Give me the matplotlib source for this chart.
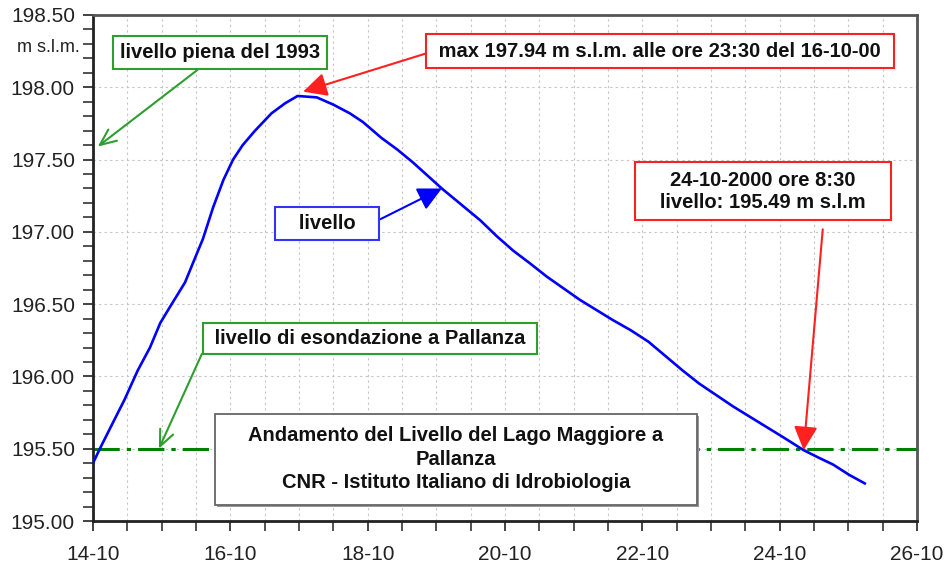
import numpy as np
import matplotlib
matplotlib.use('Agg')
import matplotlib.pyplot as plt
from matplotlib.patches import Rectangle
from matplotlib.ticker import MultipleLocator, FormatStrFormatter

plt.rcParams['font.family'] = ['Liberation Sans', 'DejaVu Sans']

# giorni trascorsi dalle 00:00 del 14-10-2000
giorni = [0.00, 0.10, 0.29, 0.46, 0.65, 0.83, 0.98, 1.12, 1.34, 1.53, 1.60,
          1.75, 1.90, 2.04, 2.18, 2.36, 2.60, 2.80, 2.98, 3.26, 3.50, 3.74,
          3.93, 4.20, 4.43, 4.66, 4.87, 5.08, 5.36, 5.64, 5.88, 6.12, 6.37,
          6.61, 6.85, 7.09, 7.33, 7.57, 7.83, 8.09, 8.34, 8.59, 8.83, 9.08,
          9.33, 9.57, 9.81, 10.05, 10.35, 10.56, 10.78, 11.01, 11.24]
livello = [195.40, 195.50, 195.68, 195.84, 196.04, 196.20, 196.37, 196.48,
           196.65, 196.87, 196.95, 197.17, 197.36, 197.50, 197.60, 197.70,
           197.82, 197.89, 197.94, 197.93, 197.88, 197.82, 197.76, 197.65,
           197.57, 197.48, 197.39, 197.30, 197.19, 197.08, 196.97, 196.87,
           196.78, 196.69, 196.61, 196.53, 196.46, 196.39, 196.32, 196.24,
           196.14, 196.04, 195.95, 195.87, 195.79, 195.72, 195.65, 195.58,
           195.49, 195.44, 195.39, 195.32, 195.26]

xtick_pos = [0, 2, 4, 6, 8, 10, 12]
xtick_lab = ['14-10', '16-10', '18-10', '20-10', '22-10', '24-10', '26-10']

esondazione = 195.50
piena_1993 = 197.59
t_max, v_max = 2.98, 197.94
t_fine, v_fine = 10.35, 195.49
t_liv, v_liv = 5.08, 197.30

fig = plt.figure(figsize=(9.46, 5.66), dpi=100)
ax = fig.add_axes([0.0983, 0.0795, 0.871, 0.894])

ax.plot(giorni, livello, color='#0000ff', lw=1.9, zorder=3)
ax.axhline(esondazione, color='#008000', lw=2.2, dashes=(8.6, 2.3, 1.4, 2.3), zorder=2)

ax.set_xlim(0, 12)
ax.set_ylim(195.0, 198.5)
ax.set_xticks(xtick_pos, xtick_lab)
ax.xaxis.set_minor_locator(MultipleLocator(0.5))
ax.yaxis.set_major_locator(MultipleLocator(0.5))
ax.yaxis.set_minor_locator(MultipleLocator(0.1))
ax.yaxis.set_major_formatter(FormatStrFormatter('%.2f'))
ax.tick_params(which='both', direction='out', length=7, width=1.2, color='#333333')
ax.tick_params(which='major', labelsize=15, colors='#222222')
ax.tick_params(axis='x', which='major', pad=10)
ax.tick_params(axis='y', which='major', pad=6)
ax.grid(which='both', axis='x', color='#c4c4c4', ls=(0, (2, 3)), lw=0.8)
ax.grid(which='major', axis='y', color='#c4c4c4', ls=(0, (2, 3)), lw=0.8)
for s in ['left', 'bottom']:
    ax.spines[s].set_linewidth(2)
    ax.spines[s].set_color('#222222')
for s in ['top', 'right']:
    ax.spines[s].set_linewidth(2)
    ax.spines[s].set_color('#555555')

ax.text(-0.016, 0.935, 'm s.l.m.', transform=ax.transAxes, ha='right', va='center',
        fontsize=13, color='#222222')

fs = 14.5

def box(ec, pad=0.35):
    return dict(boxstyle='square,pad=%s' % pad, fc='white', ec=ec, lw=1.5)

ax.annotate('livello piena del 1993', xy=(0.07, piena_1993), xytext=(1.85, 198.24),
            ha='center', va='center', fontsize=fs, fontweight='bold', color='#111111',
            bbox=box('#2e9e2e'), zorder=5,
            arrowprops=dict(arrowstyle='->,head_length=0.8,head_width=0.35', color='#2e9e2e',
                            lw=1.5, shrinkA=0, shrinkB=0))

ax.annotate(' max 197.94 m s.l.m. alle ore 23:30 del 16-10-00 ', xy=(t_max + 0.08, 197.97),
            xytext=(8.26, 198.25), ha='center', va='center', fontsize=fs, fontweight='bold',
            color='#111111', bbox=box('#ff2020', 0.38), zorder=5,
            arrowprops=dict(arrowstyle='-|>,head_length=1.0,head_width=0.5', color='#ff2020',
                            lw=1.5, relpos=(0, 0.5), shrinkA=0, shrinkB=0))

ax.annotate('24-10-2000 ore 8:30\n   livello: 195.49 m s.l.m   ', xy=(t_fine, v_fine),
            xytext=(9.76, 197.28), ha='center', va='center', fontsize=fs, fontweight='bold',
            color='#111111', bbox=box('#ff2020', 0.4), zorder=5, linespacing=1.25,
            arrowprops=dict(arrowstyle='-|>,head_length=1.0,head_width=0.5', color='#ff2020',
                            lw=1.5, relpos=(0.755, 0), shrinkA=6, shrinkB=0))

ax.annotate('   livello   ', xy=(t_liv, v_liv), xytext=(3.41, 197.06), ha='center', va='center',
            fontsize=fs, fontweight='bold', color='#111111',
            bbox=box('#3333ff', 0.35), zorder=5,
            arrowprops=dict(arrowstyle='-|>,head_length=1.0,head_width=0.5', color='#0000ff',
                            lw=1.5, relpos=(1, 0.5), shrinkA=0, shrinkB=0))

ax.annotate(' livello di esondazione a Pallanza ', xy=(0.96, esondazione),
            xytext=(4.03, 196.26), ha='center', va='center', fontsize=fs, fontweight='bold',
            color='#111111', bbox=box('#2e9e2e', 0.3), zorder=5,
            arrowprops=dict(arrowstyle='->,head_length=0.8,head_width=0.35', color='#2e9e2e',
                            lw=1.5, relpos=(0, 0.5), shrinkA=0, shrinkB=0))

# riquadro del titolo
ax.add_patch(Rectangle((0.151, 0.027), 0.585, 0.18, transform=ax.transAxes,
                       fc='#999999', ec='none', zorder=4))
ax.add_patch(Rectangle((0.148, 0.0316), 0.585, 0.18, transform=ax.transAxes,
                       fc='white', ec='#666666', lw=1.3, zorder=4))
ax.text(0.4405, 0.1216, 'Andamento del Livello del Lago Maggiore a\nPallanza\n'
        'CNR - Istituto Italiano di Idrobiologia', transform=ax.transAxes,
        ha='center', va='center', fontsize=fs, fontweight='bold', color='#111111',
        linespacing=1.3, zorder=5)

plt.savefig('out.png', dpi=100)
